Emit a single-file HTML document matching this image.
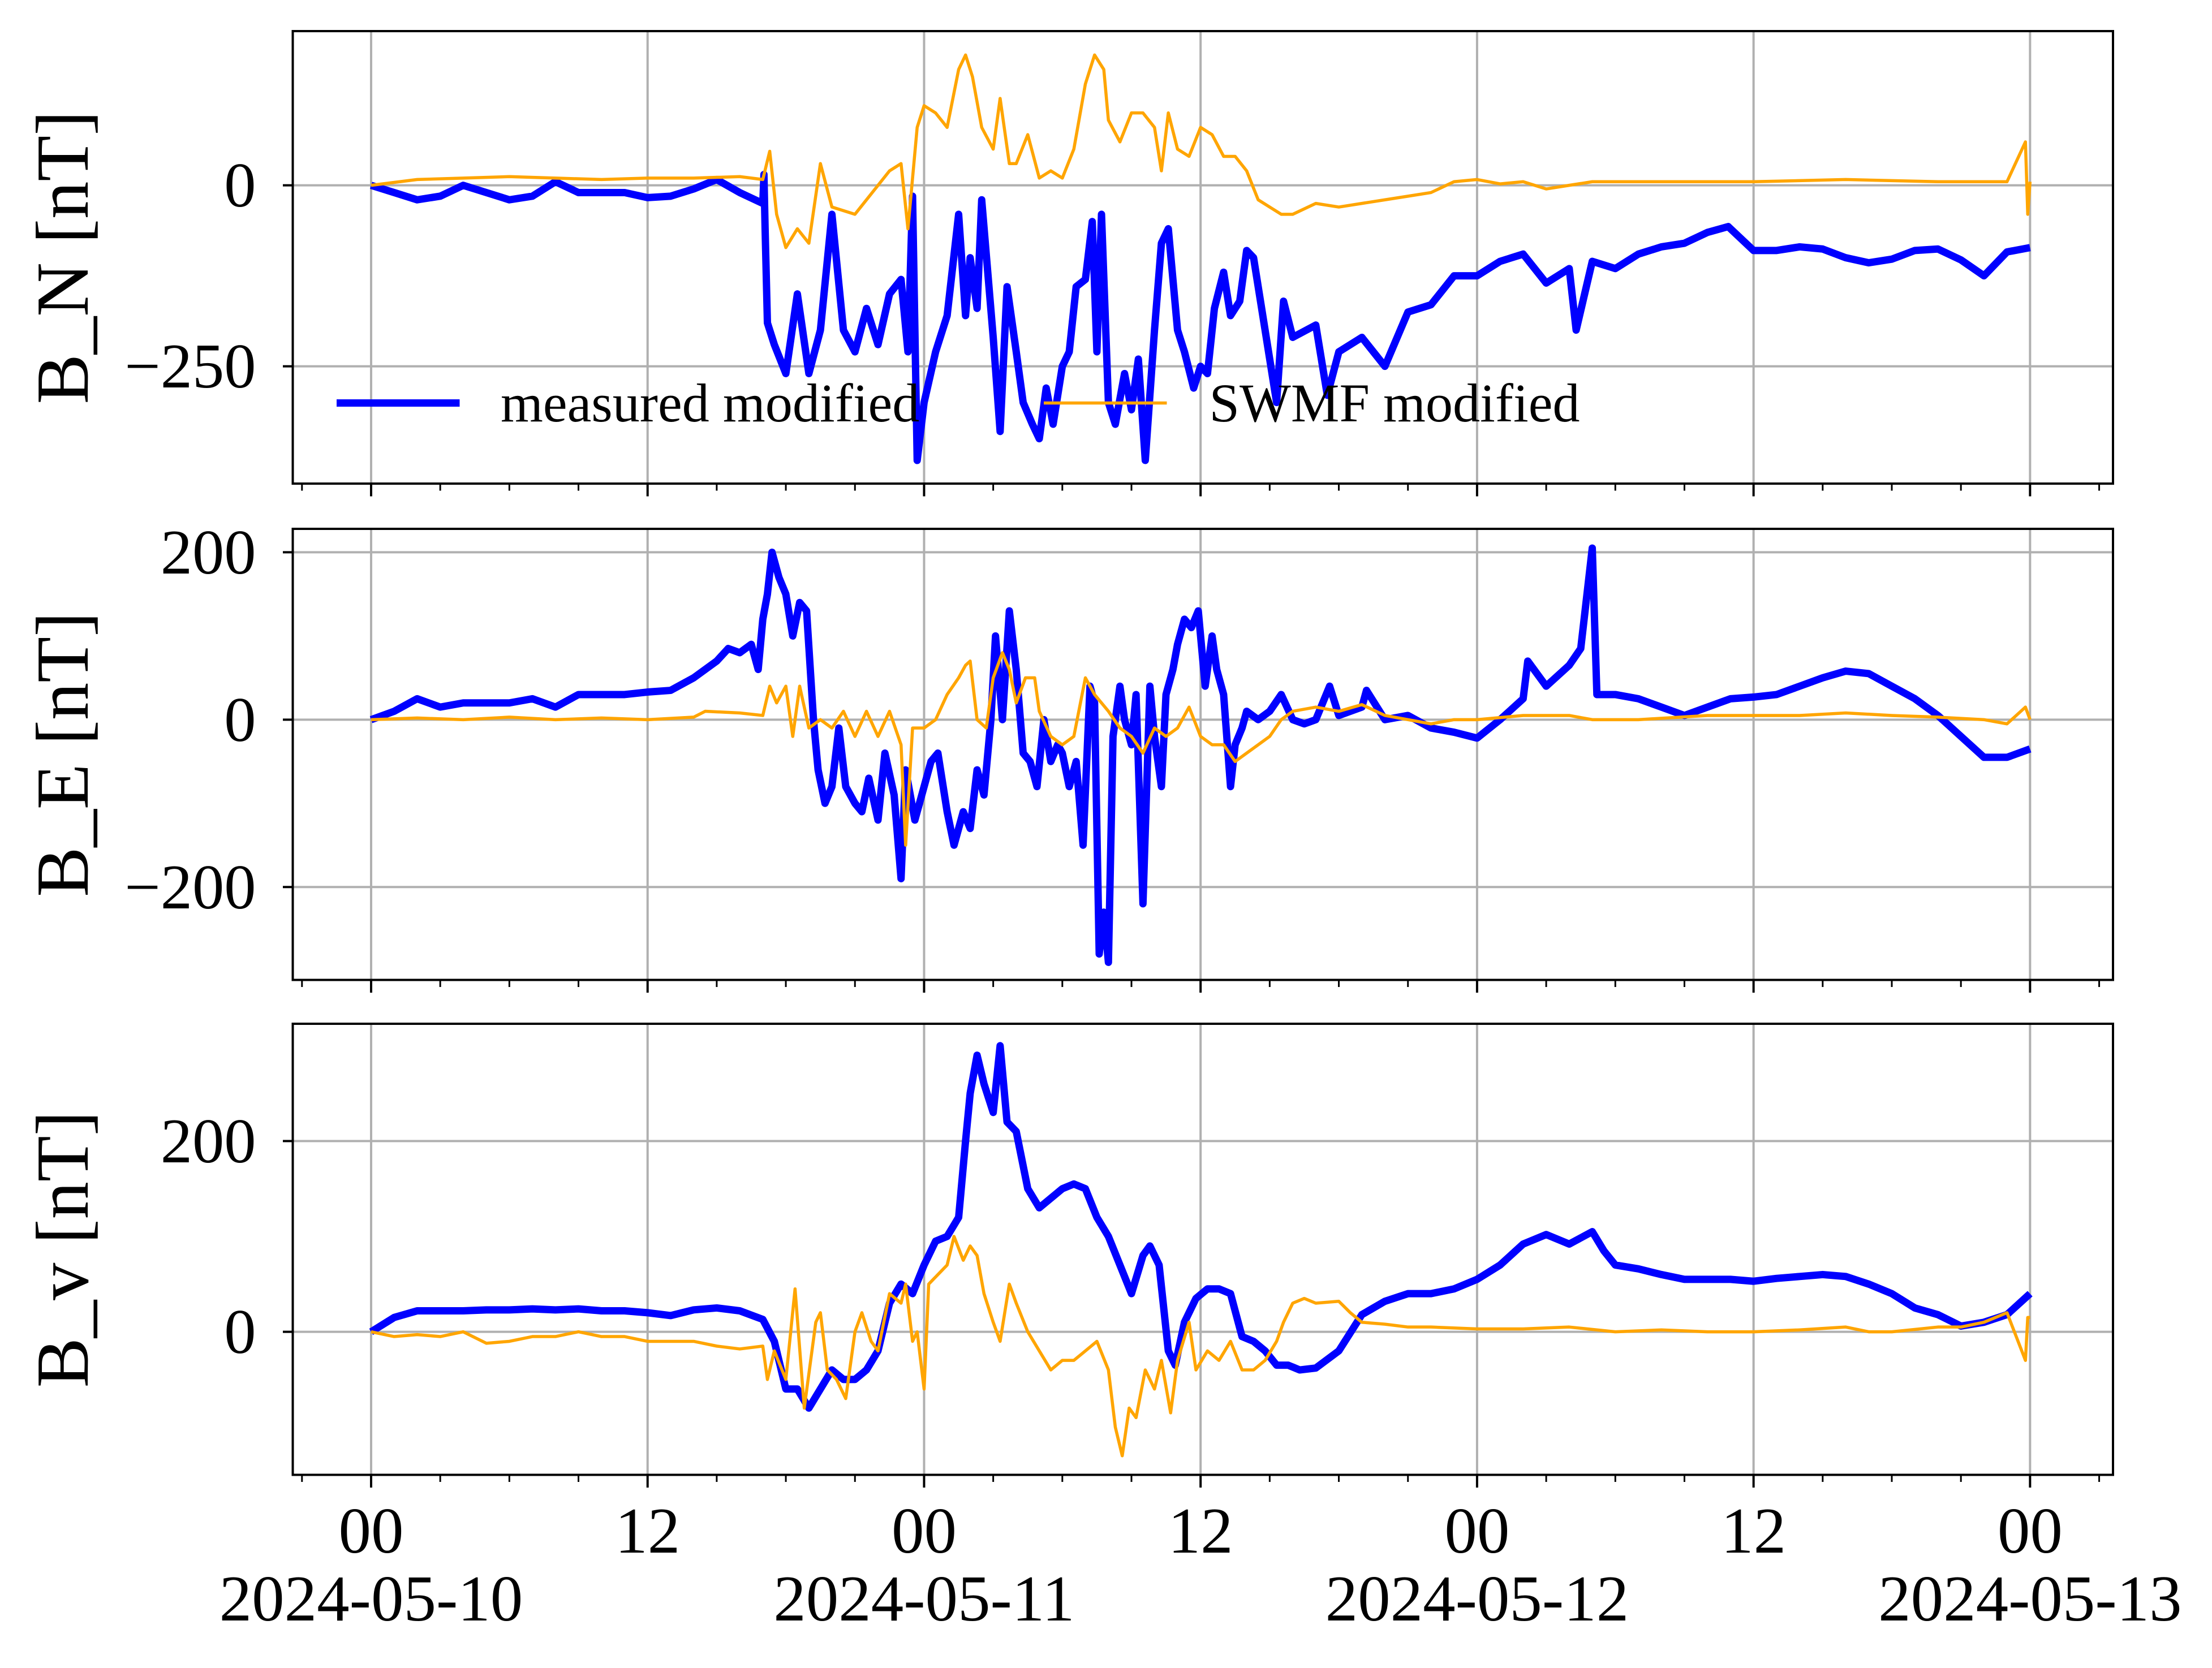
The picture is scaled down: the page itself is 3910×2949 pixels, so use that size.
<!DOCTYPE html>
<html><head><meta charset="utf-8"><style>
html,body{margin:0;padding:0;background:#fff;}
svg{display:block;}
text{font-family:"Liberation Serif","DejaVu Serif",serif;fill:#000;}
</style></head><body>
<svg id="chart" xmlns="http://www.w3.org/2000/svg" width="3910" height="2949" viewBox="0 0 1564 1179.6"></svg>
<script>
// ---- data (hours since 2024-05-10 00:00, values in nT) ----
const panelTitles = ["B_N [nT]", "B_E [nT]", "B_v [nT]"];
const xTickHours = [0, 12, 24, 36, 48, 60, 72];
const xTickTop = ["00", "12", "00", "12", "00", "12", "00"];
const xTickBottom = ["2024-05-10", "", "2024-05-11", "", "2024-05-12", "", "2024-05-13"];
const yTicksN = [-250, 0];
const yTicksE = [-200, 0, 200];
const yTicksV = [0, 200];

const tMeasN = [0,1,2,3,4,5,6,7,8,9,10,11,12,13,14,15,16,17,17.05,17.1,17.2,17.5,18,18.5,19,19.5,20,20.5,21,21.5,22,22.5,23,23.3,23.5,23.7,24,24.5,25,25.5,25.8,26,26.3,26.5,27,27.3,27.6,28,28.3,28.7,29,29.3,29.6,30,30.3,30.6,31,31.3,31.5,31.7,32,32.3,32.7,33,33.3,33.6,34,34.3,34.6,35,35.3,35.7,36,36.3,36.6,37,37.3,37.7,38,38.3,38.6,39,39.3,39.6,40,41,41.5,42,43,44,45,46,47,48,49,50,51,52,52.3,53,54,55,56,57,58,58.9,60,61,62,63,64,65,66,67,68,69,70,71,72];
const measN = [0,-10,-20,-15,0,-10,-20,-15,5,-10,-10,-10,-17,-15,-5,8,-10,-25,15,-60,-190,-220,-260,-150,-260,-200,-40,-200,-230,-170,-220,-150,-130,-230,-15,-380,-300,-230,-180,-40,-180,-100,-170,-20,-210,-340,-140,-230,-300,-330,-350,-280,-330,-250,-230,-140,-130,-50,-230,-40,-300,-330,-260,-310,-240,-380,-200,-80,-60,-200,-230,-280,-250,-260,-170,-120,-180,-160,-90,-100,-160,-240,-300,-160,-210,-193,-290,-230,-210,-250,-175,-165,-125,-125,-105,-95,-135,-115,-200,-105,-115,-95,-85,-80,-65,-57,-90,-90,-85,-88,-100,-107,-102,-90,-88,-103,-125,-92,-86];

const tSwmfN = [0,2,4,6,8,10,12,14,16,17,17.3,17.6,18,18.5,19,19.5,20,21,22,22.5,23,23.3,23.7,24,24.5,25,25.5,25.8,26.1,26.5,27,27.3,27.7,28,28.5,29,29.5,30,30.5,31,31.4,31.8,32,32.5,33,33.5,34,34.3,34.6,35,35.5,36,36.5,37,37.5,38,38.5,39,39.5,40,41,42,43,44,45,46,47,48,49,50,51,52,53,56,60,64,68,71,71.8,71.9,72];
const swmfN = [0,8,10,12,10,8,10,10,12,8,47,-40,-86,-60,-80,30,-30,-40,0,20,30,-60,80,110,100,80,160,180,150,80,50,120,30,30,70,10,20,10,50,140,180,160,90,60,100,100,80,20,100,50,40,80,70,40,40,20,-20,-30,-40,-40,-25,-30,-25,-20,-15,-10,5,8,2,5,-5,0,5,5,5,8,5,5,60,-40,5];

const tMeasE = [0,1,2,3,4,5,6,7,8,9,10,11,12,13,14,15,15.5,16,16.5,16.8,17,17.2,17.4,17.7,18,18.3,18.6,18.9,19.2,19.4,19.7,20,20.3,20.6,21,21.3,21.6,22,22.3,22.7,23,23.2,23.6,24,24.3,24.6,25,25.3,25.7,26,26.3,26.6,26.9,27.1,27.4,27.7,28,28.3,28.6,28.9,29.2,29.5,29.8,30,30.3,30.6,30.9,31.2,31.4,31.6,31.8,32,32.2,32.5,32.7,33,33.2,33.5,33.8,34,34.3,34.5,34.8,35,35.3,35.6,35.9,36.2,36.5,36.7,37,37.3,37.5,37.8,38,38.5,39,39.5,40,40.5,41,41.6,42,43,43.2,44,45,46,47,48,49,50,50.2,51,52,52.5,53,53.2,54,55,56,57,58,59,60,61,62,63,64,65,66,67,68,69,70,71,72];
const measE = [0,10,25,15,20,20,20,25,15,30,30,30,33,35,50,70,85,80,90,60,120,150,200,170,150,100,140,130,0,-60,-100,-80,-10,-80,-100,-110,-70,-120,-40,-90,-190,-60,-120,-80,-50,-40,-110,-150,-110,-130,-60,-90,0,100,0,130,60,-40,-50,-80,0,-50,-30,-40,-80,-50,-150,40,20,-280,-230,-290,-20,40,0,-30,30,-220,40,-20,-80,30,60,90,120,110,130,40,100,60,30,-80,-30,-10,10,0,10,30,0,-5,0,40,5,15,35,0,5,-10,-15,-22,0,25,70,40,65,85,205,30,30,25,15,5,15,25,27,30,40,50,58,55,40,25,5,-20,-45,-45,-35];

const tSwmfE = [0,2,4,6,8,10,12,14,14.5,16,17,17.3,17.6,18,18.3,18.6,19,19.5,20,20.5,21,21.5,22,22.5,23,23.2,23.5,24,24.5,25,25.5,25.8,26,26.3,26.7,27,27.4,27.7,28,28.4,28.8,29,29.5,30,30.5,31,31.4,31.7,32,32.5,33,33.5,34,34.5,35,35.5,36,36.5,37,37.5,38,38.5,39,39.5,40,41,42,43,44,45,46,47,48,50,52,53,55,58,60,62,64,66,68,70,71,71.8,72];
const swmfE = [0,2,0,3,0,2,0,3,10,8,5,40,20,40,-20,40,-10,0,-10,10,-20,10,-20,10,-30,-150,-10,-10,0,30,50,65,70,0,-10,50,80,60,20,50,50,10,-20,-30,-20,50,30,20,10,-10,-20,-40,-10,-20,-10,15,-20,-30,-30,-50,-40,-30,-20,0,10,15,10,18,5,0,-5,0,0,5,5,0,0,5,5,5,8,5,3,0,-5,15,0];

const tMeasV = [0,1,2,3,4,5,6,7,8,9,10,11,12,13,14,15,16,17,17.5,18,18.5,19,19.5,20,20.5,21,21.5,22,22.5,23,23.5,24,24.5,25,25.5,25.8,26,26.3,26.6,27,27.3,27.6,28,28.5,29,29.5,30,30.5,31,31.5,32,32.5,33,33.5,33.8,34.2,34.6,34.9,35.3,35.8,36.3,36.8,37.3,37.8,38.3,38.8,39.3,39.8,40.3,41,42,43,44,45,46,47,48,49,50,51,52,53,53.5,54,55,56,57,58,59,60,61,62,63,64,65,66,67,68,69,70,71,72];
const measV = [0,15,22,22,22,23,23,24,23,24,22,22,20,17,23,25,22,13,-10,-60,-60,-80,-60,-40,-50,-50,-40,-20,30,50,40,70,95,100,120,200,250,290,260,230,300,220,210,150,130,140,150,155,150,120,100,70,40,80,90,70,-20,-35,10,35,45,45,40,-5,-10,-20,-35,-35,-40,-38,-20,18,32,40,40,45,55,70,92,102,92,105,85,70,66,60,55,55,55,53,56,58,60,58,50,40,25,18,6,10,18,40];

const tSwmfV = [0,1,2,3,4,5,6,7,8,9,10,11,12,13,14,15,16,17,17.2,17.5,18,18.4,18.8,19.3,19.5,19.8,20.2,20.6,21,21.3,21.7,22,22.5,23,23.2,23.5,23.7,24,24.2,24.6,25,25.3,25.7,26,26.3,26.6,27,27.3,27.7,28,28.5,29,29.5,30,30.5,31,31.5,32,32.3,32.6,32.9,33.2,33.6,34,34.3,34.7,35,35.5,35.8,36.3,36.8,37.3,37.8,38.3,38.8,39.3,39.6,40,40.5,41,42,42.5,43,44,45,46,48,50,52,54,56,58,60,62,64,65,66,68,69,70,71,71.8,71.9,72];
const swmfV = [0,-5,-3,-5,0,-12,-10,-5,-5,0,-5,-5,-10,-10,-10,-15,-18,-15,-50,-20,-50,45,-80,10,20,-40,-50,-70,0,20,-10,-20,40,30,50,-10,0,-60,50,60,70,100,75,90,80,40,10,-10,50,30,0,-20,-40,-30,-30,-20,-10,-40,-100,-130,-80,-90,-40,-60,-30,-85,-30,10,-40,-20,-30,-10,-40,-40,-30,-10,10,30,35,30,32,20,10,8,5,5,3,3,5,0,2,0,0,2,5,0,0,5,5,10,20,-30,15,15];

// ---- layout ----
const svg = document.getElementById('chart');
const NS = 'http://www.w3.org/2000/svg';
const X0 = 207, X1 = 1494, H0 = -3.4, H1 = 75.6;
function xs(h){ return X0 + (h - H0) / (H1 - H0) * (X1 - X0); }
const panels = [
  {top:22, bot:342, vmin:-412, vmax:213, ticks:yTicksN, t1:tMeasN, v1:measN, t2:tSwmfN, v2:swmfN, id:'bn'},
  {top:374, bot:693, vmin:-311, vmax:228, ticks:yTicksE, t1:tMeasE, v1:measE, t2:tSwmfE, v2:swmfE, id:'be'},
  {top:724, bot:1043, vmin:-150, vmax:323, ticks:yTicksV, t1:tMeasV, v1:measV, t2:tSwmfV, v2:swmfV, id:'bv'}
];
function mk(tag, attrs, parent){
  const e = document.createElementNS(NS, tag);
  for (const k in attrs) e.setAttribute(k, attrs[k]);
  (parent || svg).appendChild(e);
  return e;
}
panels.forEach((p, i) => {
  const ys = v => p.bot - (v - p.vmin) / (p.vmax - p.vmin) * (p.bot - p.top);
  const g = mk('g', {});
  
  
  const clipId = 'clip' + i;
  const cp = mk('clipPath', {id: clipId}, g);
  mk('rect', {x: X0, y: p.top, width: X1 - X0, height: p.bot - p.top}, cp);
  xTickHours.forEach(h => {
    const l = mk('line', {x1: xs(h), x2: xs(h), y1: p.top, y2: p.bot, stroke: '#b0b0b0', 'stroke-width': 1.6}, g);
    
    
  });
  p.ticks.forEach(v => {
    const l = mk('line', {x1: X0, x2: X1, y1: ys(v), y2: ys(v), stroke: '#b0b0b0', 'stroke-width': 1.6}, g);
    
    
    const tk = mk('line', {x1: X0 - 7, x2: X0, y1: ys(v), y2: ys(v), stroke: '#000', 'stroke-width': 1.6}, g);
    
    
    const tx = mk('text', {x: X0 - 26, y: ys(v) + 15, 'text-anchor': 'end', 'font-size': 45}, g);
    tx.textContent = v < 0 ? '\u2212' + Math.abs(v) : String(v);
    
    
  });
  function path(ts, vs, color, w, name){
    let d = '';
    ts.forEach((t, k) => { d += (k ? 'L' : 'M') + xs(t).toFixed(2) + ',' + ys(vs[k]).toFixed(2); });
    const pe = mk('path', {d: d, fill: 'none', stroke: color, 'stroke-width': w, 'stroke-linejoin': 'round', 'clip-path': 'url(#' + clipId + ')'}, g);
    
    
  }
  path(p.t1, p.v1, '#0000ff', 5.2, 'measured-line-' + p.id);
  path(p.t2, p.v2, '#ffa500', 2.2, 'swmf-line-' + p.id);
  const fr = mk('rect', {x: X0, y: p.top, width: X1 - X0, height: p.bot - p.top, fill: 'none', stroke: '#000', 'stroke-width': 1.6}, g);
  
  
  for (let h = -3; h <= 75; h += 3) {
    const major = h % 12 === 0;
    const tk = mk('line', {x1: xs(h), x2: xs(h), y1: p.bot, y2: p.bot + (major ? 9 : 5), stroke: '#000', 'stroke-width': major ? 1.6 : 1.2}, g);
    
    
  }
  const cy = (p.top + p.bot) / 2;
  const yl = mk('text', {x: 0, y: 0, 'text-anchor': 'middle', 'font-size': 53, transform: 'translate(62,' + cy + ') rotate(-90)'}, g);
  yl.textContent = panelTitles[i];
  
  
});
xTickHours.forEach((h, k) => {
  const t1 = mk('text', {x: xs(h), y: 1098, 'text-anchor': 'middle', 'font-size': 46});
  t1.textContent = xTickTop[k];
  
  
  if (xTickBottom[k]) {
    const t2 = mk('text', {x: xs(h), y: 1146, 'text-anchor': 'middle', 'font-size': 46});
    t2.textContent = xTickBottom[k];
    
    
  }
});
const lg = mk('g', {});


const l1 = mk('line', {x1: 238, x2: 325, y1: 285, y2: 285, stroke: '#0000ff', 'stroke-width': 5.2}, lg);


const lt1 = mk('text', {x: 354, y: 298, 'font-size': 38.5}, lg);
lt1.textContent = 'measured modified';


const l2 = mk('line', {x1: 738, x2: 825, y1: 285, y2: 285, stroke: '#ffa500', 'stroke-width': 2.2}, lg);


const lt2 = mk('text', {x: 855, y: 298, 'font-size': 38.5}, lg);
lt2.textContent = 'SWMF modified';


</script>
</body></html>
